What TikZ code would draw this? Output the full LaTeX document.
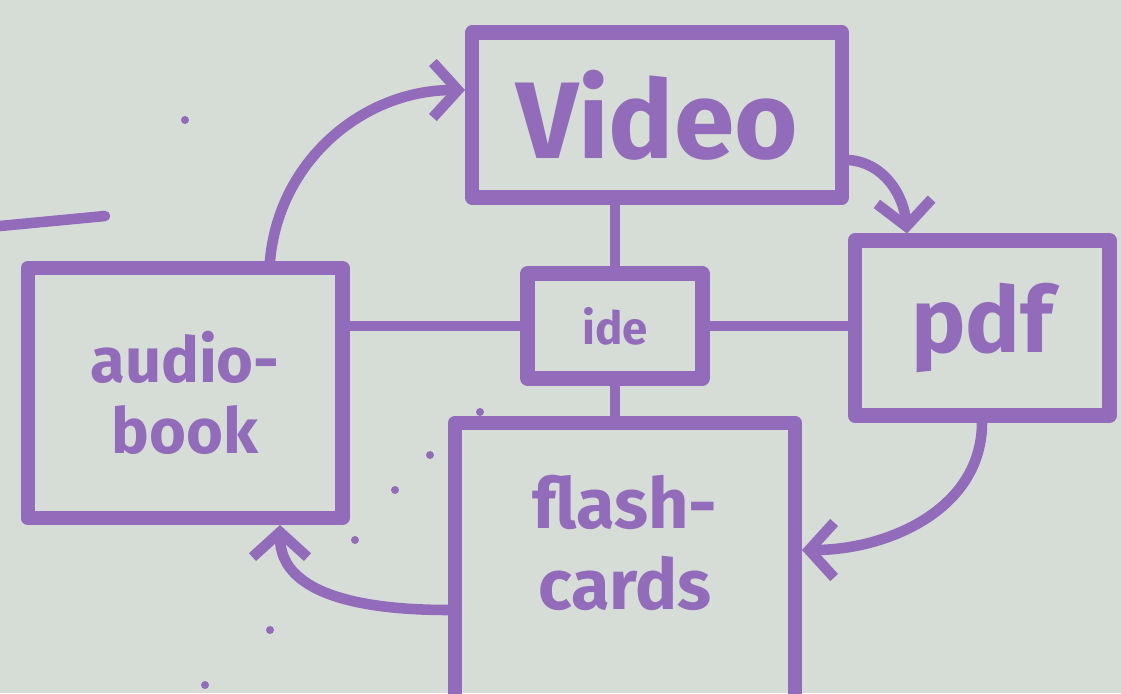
\documentclass[tikz,border=0pt]{standalone}
\usepackage{fontspec}
\setmainfont{Fira Sans}
\usepackage{tikz}
\usetikzlibrary{arrows.meta}
\definecolor{paper}{RGB}{214,221,214}
\definecolor{marker}{RGB}{146,108,186}

\begin{document}
\begin{tikzpicture}[x=0.02cm,y=-0.02cm]
\tikzset{every node/.style={font=\bfseries,text=marker,align=center}}
\tikzset{box/.style={draw=marker,line width=8pt,line join=round,inner sep=0pt}}
\tikzset{link/.style={draw=marker,line width=6pt,line cap=round}}
\tikzset{flow/.style={link,-{Straight Barb[length=5mm,width=11mm]}}}
\fill[paper] (0,0) rectangle (1121,693);
\useasboundingbox (0,0) rectangle (1121,693);
% boxes
\node[box,minimum width=7.4cm,minimum height=3.3cm,font=\fontsize{62}{62}\bfseries] (video) at (657,115) {Video};
\node[box,minimum width=5.1cm,minimum height=3.5cm,font=\fontsize{52}{52}\bfseries] (pdf) at (982,328) {pdf};
\node[box,minimum width=3.5cm,minimum height=2.1cm,font=\fontsize{26}{26}\bfseries] (idea) at (615,326) {ide};
\node[box,minimum width=6.3cm,minimum height=5cm,font=\fontsize{36}{40}\bfseries] (audio) at (185,393) {audio-\\book};
\node[box,minimum width=6.8cm,minimum height=5.9cm,font=\fontsize{40}{46}\bfseries,text depth=1.1cm] (flash) at (625,570) {flash-\\cards};
% hub links
\draw[link] (idea.north) -- (idea.north |- video.south);
\draw[link] (idea.south) -- (idea.south |- flash.north);
\draw[link] (idea.west) -- (idea.west -| audio.east);
\draw[link] (idea.east) -- (idea.east -| pdf.west);
% cycle
\draw[flow] ([xshift=1.7cm]audio.north) to[out=85,in=180] ([yshift=0.5cm]video.west);
\draw[flow] ([yshift=-0.9cm]video.east) to[out=-5,in=95] ([xshift=-1.5cm]pdf.north);
\draw[flow] (pdf.south) to[out=-90,in=0] ([yshift=0.4cm]flash.east);
\draw[flow] ([yshift=-0.8cm]flash.west) to[out=180,in=-90] ([xshift=1.9cm]audio.south);
% stray marks
\draw[link] (0,226) -- (105,216);
\foreach \p in {(430,455),(395,490),(355,540),(270,630),(205,685),(185,120),(480,412)}
  \fill[marker] \p circle (4);
\end{tikzpicture}
\end{document}
